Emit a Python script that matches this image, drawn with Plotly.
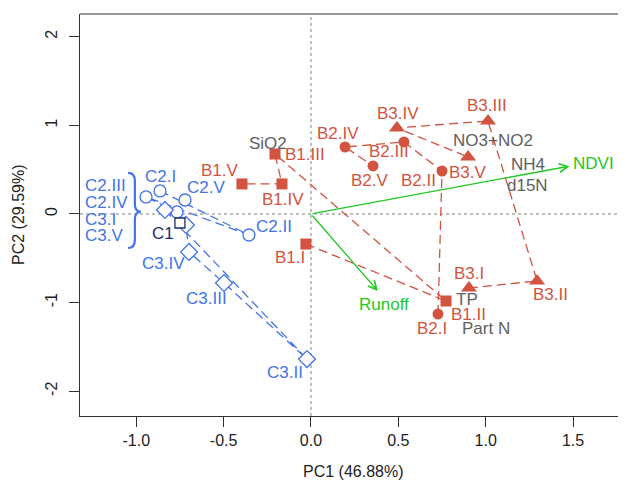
import plotly.graph_objects as go

# ---------------- data ----------------
roman = ["I", "II", "III", "IV", "V"]

b1_x = [-0.029, 0.773, -0.206, -0.166, -0.395]
b1_y = [-0.339, -0.982, 0.677, 0.339, 0.339]
b2_x = [0.727, 0.750, 0.532, 0.195, 0.355]
b2_y = [-1.129, 0.485, 0.813, 0.756, 0.542]
b3_x = [0.904, 1.294, 1.013, 0.492, 0.899]
b3_y = [-0.835, -0.756, 1.050, 0.971, 0.643]
c2_x = [-0.864, -0.355, -0.944, -0.767, -0.721]
c2_y = [0.260, -0.237, 0.192, 0.023, 0.158]
c3_x = [-0.836, -0.023, -0.498, -0.698, -0.716]
c3_y = [0.045, -1.637, -0.779, -0.429, -0.124]
c1_x = [-0.750]
c1_y = [-0.102]

vec_names = ["NDVI", "Runoff"]
vec_x = [1.48, 0.383]
vec_y = [0.54, -0.87]

var_names = ["SiO2", "NO3+NO2", "NH4", "d15N", "TP", "Part N"]
var_x = [-0.246, 1.042, 1.242, 1.242, 0.893, 1.000]
var_y = [0.800, 0.835, 0.553, 0.316, -0.970, -1.290]

brace_labels = ["C2.III", "C2.IV", "C3.I", "C3.V"]

x_ticks = [-1.0, -0.5, 0.0, 0.5, 1.0, 1.5]
x_ticktext = ["-1.0", "-0.5", "0.0", "0.5", "1.0", "1.5"]
y_ticks = [-2, -1, 0, 1, 2]
y_ticktext = ["-2", "-1", "0", "1", "2"]

# ---------------- styles ----------------
RED = "#D2533F"
BLUE = "#4274E8"
NAVY = "#1F2D6B"
GREEN = "#22C822"
GRAY = "#606060"
FONT = "Liberation Sans"
LFS = 17
TFS = 16

X_RANGE = [-1.322, 1.803]
Y_RANGE = [-2.28, 2.257]

# label offsets in screen pixels (dx right, dy down)
offsets = {
    "B1": [(-16, 13), (22, 14), (30, 0), (1, 16), (-22, -13)],
    "B2": [(-6, 14), (-24, 9), (-15, 10), (-7, -14), (-3, 15)],
    "B3": [(0, -14), (13, 14), (-1, -15), (1, -14), (0, 15)],
    "C2": [(0, -14), (25, -8), None, None, (21, -12)],
    "C3": [None, (-22, 13), (-17, 15), (-26, 12), None],
}

groups = [
    ("B1", b1_x, b1_y, dict(symbol="square", size=11, color=RED, line=dict(width=0)), RED),
    ("B2", b2_x, b2_y, dict(symbol="circle", size=11, color=RED, line=dict(width=0)), RED),
    ("B3", b3_x, b3_y, dict(symbol="triangle-up", size=14, color=RED, line=dict(width=0)), RED),
    ("C2", c2_x, c2_y, dict(symbol="circle", size=12, color="white", line=dict(color=BLUE, width=1.3)), BLUE),
    ("C3", c3_x, c3_y, dict(symbol="diamond", size=13, color="white", line=dict(color=BLUE, width=1.3)), BLUE),
]

fig = go.Figure()
annotations = []

for name, xs, ys, mk, col in groups:
    fig.add_trace(go.Scatter(
        x=xs, y=ys, mode="lines+markers", name=name,
        line=dict(color=col, width=1.3, dash="9px,5px"),
        marker=mk, showlegend=False, hoverinfo="skip"))
    for i, r in enumerate(roman):
        off = offsets[name][i]
        if off is None:
            continue
        annotations.append(dict(
            x=xs[i], y=ys[i], xref="x", yref="y", text=f"{name}.{r}",
            showarrow=False, xshift=off[0], yshift=-off[1],
            font=dict(family=FONT, size=LFS, color=col)))

fig.add_trace(go.Scatter(
    x=c1_x, y=c1_y, mode="markers",
    marker=dict(symbol="square", size=10, color="white", line=dict(color=NAVY, width=1.3)),
    showlegend=False, hoverinfo="skip"))
annotations.append(dict(x=c1_x[0], y=c1_y[0], text="C1", showarrow=False,
                        xshift=-17, yshift=-10,
                        font=dict(family=FONT, size=LFS, color=NAVY)))

# vectors
for n, vx, vy in zip(vec_names, vec_x, vec_y):
    annotations.append(dict(
        x=vx, y=vy, ax=0, ay=0, xref="x", yref="y", axref="x", ayref="y",
        text="", showarrow=True, arrowhead=5, arrowsize=1.3, arrowwidth=1.3,
        arrowcolor=GREEN))
annotations.append(dict(x=vec_x[0], y=vec_y[0], text=vec_names[0], showarrow=False,
                        xanchor="left", xshift=1, yshift=3,
                        font=dict(family=FONT, size=LFS, color=GREEN)))
annotations.append(dict(x=vec_x[1], y=vec_y[1], text=vec_names[1], showarrow=False,
                        xshift=6, yshift=-13,
                        font=dict(family=FONT, size=LFS, color=GREEN)))

# variable labels
for n, vx, vy in zip(var_names, var_x, var_y):
    annotations.append(dict(x=vx, y=vy, text=n, showarrow=False,
                            font=dict(family=FONT, size=LFS, color=GRAY)))

# brace group labels
brace_y = [0.327, 0.130, -0.062, -0.248]
for t, by in zip(brace_labels, brace_y):
    annotations.append(dict(x=-1.303, y=by, text=t, showarrow=False, xanchor="left",
                            font=dict(family=FONT, size=LFS, color=BLUE)))

# axis titles
annotations.append(dict(xref="paper", yref="paper", x=0.5, y=0, yanchor="middle",
                        yshift=-55, text="PC1 (46.88%)", showarrow=False,
                        font=dict(family=FONT, size=TFS, color="#222222")))
annotations.append(dict(xref="paper", yref="paper", x=0, y=0.5, xanchor="center",
                        xshift=-62, text="PC2 (29.59%)", showarrow=False, textangle=-90,
                        font=dict(family=FONT, size=TFS, color="#222222")))

# brace path (data coordinates)
xe, xs_, xt = -1.047, -1.008, -0.973
yt, ym, yb = 0.463, 0.025, -0.384
d = 0.09
brace = (f"M{xe},{yt} Q{xs_},{yt} {xs_},{yt-d} L{xs_},{ym+d} "
         f"Q{xs_},{ym} {xt},{ym} Q{xs_},{ym} {xs_},{ym-d} "
         f"L{xs_},{yb+d} Q{xs_},{yb} {xe},{yb}")

shapes = [
    dict(type="line", xref="x", yref="paper", x0=0, x1=0, y0=0, y1=1,
         line=dict(color="#AAAAAA", width=1.5, dash="dot"), layer="below"),
    dict(type="line", xref="paper", yref="y", x0=0, x1=1, y0=0, y1=0,
         line=dict(color="#AAAAAA", width=1.5, dash="dot"), layer="below"),
    dict(type="line", xref="paper", yref="paper", x0=0, x1=1, y0=1, y1=1,
         line=dict(color="#333333", width=1.2)),
    dict(type="path", xref="x", yref="y", path=brace,
         line=dict(color=BLUE, width=2.2)),
]

# page body has an 8px margin, so the figure is sized to fit the 626x488 window
fig.update_layout(
    width=618, height=480,
    margin=dict(l=72, r=0, t=6, b=72, autoexpand=False),
    paper_bgcolor="white", plot_bgcolor="white",
    font=dict(family=FONT, size=TFS, color="#222222"),
    annotations=annotations, shapes=shapes,
    xaxis=dict(range=X_RANGE, showgrid=False, zeroline=False, automargin=False,
               showline=True, linecolor="#333333", linewidth=1.2,
               ticks="outside", ticklen=10, tickcolor="#333333",
               tickvals=x_ticks, ticktext=x_ticktext,
               tickfont=dict(size=TFS, family=FONT, color="#222222")),
    yaxis=dict(range=Y_RANGE, showgrid=False, zeroline=False, automargin=False,
               showline=True, linecolor="#333333", linewidth=1.2,
               ticks="outside", ticklen=10, tickcolor="#333333",
               tickvals=y_ticks, ticktext=y_ticktext, tickangle=-90,
               ticklabelstandoff=6,
               tickfont=dict(size=TFS, family=FONT, color="#222222")),
)

fig.write_html("out.html")
